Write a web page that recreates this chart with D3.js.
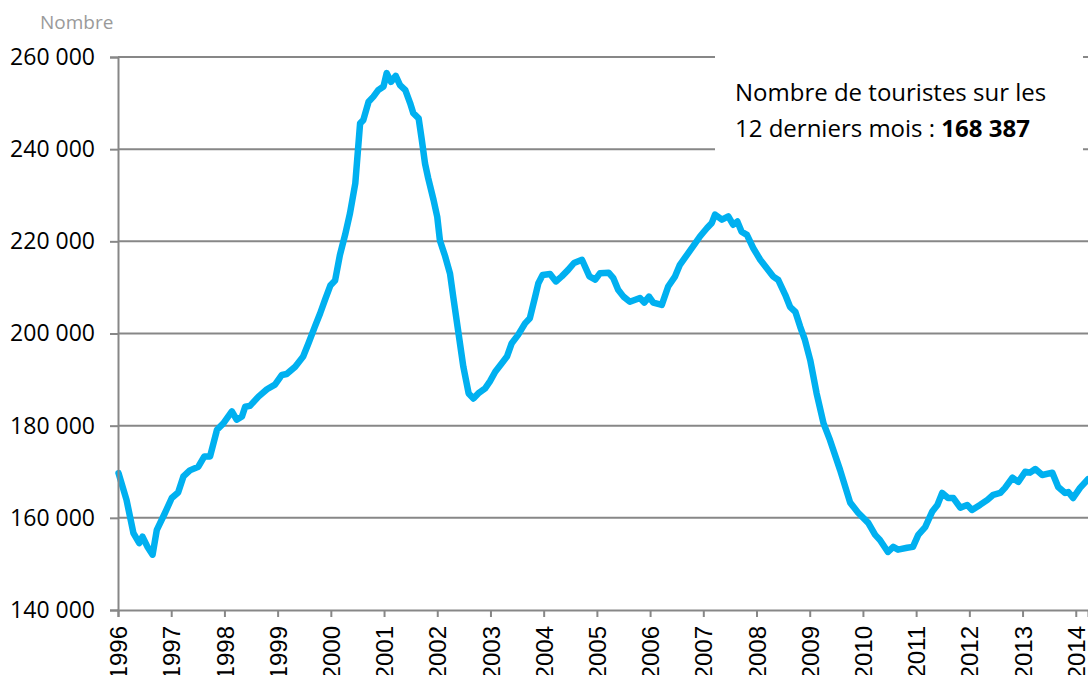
<!DOCTYPE html>
<html>
<head>
<meta charset="utf-8">
<script src="https://cdn.jsdelivr.net/npm/d3@7"></script>
<style>
  body { margin: 0; background: #fff; overflow: hidden; }
  text { font-family: "Open Sans", sans-serif; }
</style>
</head>
<body>
<div id="wrapper"></div>
<script>
// 1. Data (12-month rolling number of tourists)

const years = [
  1996.01, 1996.16, 1996.29, 1996.40, 1996.46, 1996.55, 1996.65, 1996.73, 1996.88,
  1997.01, 1997.13, 1997.23, 1997.35, 1997.51, 1997.62, 1997.73, 1997.86, 1997.98,
  1998.14, 1998.23, 1998.33, 1998.39, 1998.48, 1998.64, 1998.80, 1998.95,
  1999.08, 1999.17, 1999.33, 1999.48, 1999.58, 1999.70, 1999.80, 1999.89, 1999.99,
  2000.08, 2000.17, 2000.27, 2000.36, 2000.46, 2000.55, 2000.61, 2000.71, 2000.80, 2000.89, 2000.99,
  2001.05, 2001.13, 2001.22, 2001.30, 2001.40, 2001.49, 2001.55, 2001.65, 2001.71, 2001.77, 2001.83, 2001.93,
  2002.00, 2002.05, 2002.15, 2002.24, 2002.30, 2002.40, 2002.49, 2002.59, 2002.68, 2002.77, 2002.90, 2002.99,
  2003.09, 2003.21, 2003.31, 2003.40, 2003.52, 2003.65, 2003.74, 2003.84, 2003.90, 2003.98,
  2004.12, 2004.23, 2004.34, 2004.46, 2004.57, 2004.72, 2004.86, 2004.97,
  2005.06, 2005.22, 2005.31, 2005.40, 2005.50, 2005.62, 2005.81, 2005.89, 2005.98,
  2006.06, 2006.22, 2006.34, 2006.47, 2006.56, 2006.72, 2006.85, 2006.94,
  2007.07, 2007.16, 2007.22, 2007.35, 2007.47, 2007.56, 2007.64, 2007.72, 2007.82, 2007.94,
  2008.07, 2008.19, 2008.31, 2008.41, 2008.54, 2008.63, 2008.73, 2008.82, 2008.91,
  2009.01, 2009.13, 2009.26, 2009.38, 2009.57, 2009.76, 2009.91,
  2010.10, 2010.23, 2010.32, 2010.47, 2010.57, 2010.66, 2010.83, 2010.94,
  2011.04, 2011.17, 2011.30, 2011.40, 2011.49, 2011.60, 2011.70, 2011.83, 2011.96,
  2012.05, 2012.20, 2012.34, 2012.45, 2012.58, 2012.67, 2012.81, 2012.92,
  2013.05, 2013.14, 2013.24, 2013.37, 2013.56, 2013.67, 2013.80, 2013.86, 2013.95,
  2014.08, 2014.23
];

const tourists = [
  169700, 163900, 156700, 154500, 155900, 153800, 152000, 157400, 161000,
  164300, 165500, 169000, 170300, 171100, 173300, 173300, 179100, 180500,
  183100, 181300, 182000, 184100, 184300, 186300, 187900, 188900,
  191000, 191200, 192800, 195000, 197900, 201500, 204400, 207300, 210400,
  211500, 217000, 221500, 226100, 232600, 245600, 246300, 250300, 251400, 252800, 253600,
  256500, 254600, 255900, 253900, 252800, 250000, 247800, 246700, 242000, 236900, 233700, 229000,
  225300, 220200, 216700, 213000, 208000, 200000, 192800, 187000, 185900, 187000, 188100, 189600,
  191700, 193500, 195000, 197900, 199700, 202200, 203300, 208000, 210900, 212700,
  212900, 211300, 212400, 213800, 215300, 216000, 212400, 211700,
  213100, 213200, 212000, 209500, 208000, 206900, 207700, 206700, 208000,
  206700, 206200, 210200, 212400, 214900, 217500, 219600, 221100,
  222900, 224000, 225800, 224700, 225400, 223600, 224300, 222100, 221400, 218500,
  216000, 214200, 212400, 211600, 208400, 205800, 204700, 201500, 198600,
  194200, 187000, 180500, 176900, 170400, 163300, 161100,
  158900, 156300, 155200, 152600, 153700, 153100, 153500, 153700,
  156300, 158000, 161300, 162800, 165400, 164300, 164300, 162200, 162800,
  161700, 162800, 163900, 165000, 165400, 166500, 168700, 167800,
  170000, 169800, 170600, 169300, 169800, 166700, 165400, 165600, 164300,
  166500, 168387
];

const yTicks = [140000, 160000, 180000, 200000, 220000, 240000, 260000];
const xTicks = d3.range(1996, 2015);

const yLabel = "Nombre";
const noteLine1 = "Nombre de touristes sur les";
const noteLine2 = "12 derniers mois : ";
const lastValue = 168387;

// 2. Dimensions

let dimensions = {
  width: 1088,
  height: 675,
  margin: { top: 57, right: 0, bottom: 65, left: 118 },
};
dimensions.boundedWidth =
  dimensions.width - dimensions.margin.left - dimensions.margin.right;
dimensions.boundedHeight =
  dimensions.height - dimensions.margin.top - dimensions.margin.bottom;

const frLocale = d3.formatLocale({
  decimal: ",",
  thousands: " ",
  grouping: [3],
  currency: ["", " €"],
});
const fmt = frLocale.format(",d");

// 3. Canvas

const wrapper = d3
  .select("#wrapper")
  .append("svg")
  .attr("width", dimensions.width)
  .attr("height", dimensions.height);

const bounds = wrapper
  .append("g")
  .attr(
    "transform",
    `translate(${dimensions.margin.left}, ${dimensions.margin.top})`
  );

// 4. Scales

const xScale = d3
  .scaleLinear()
  .domain([1996, d3.max(years)])
  .range([0, dimensions.boundedWidth]);

const yScale = d3
  .scaleLinear()
  .domain([140000, 260000])
  .range([dimensions.boundedHeight, 0]);

const gridColor = "#878787";

// gridlines
bounds
  .append("g")
  .selectAll("line")
  .data(yTicks.slice(1))
  .join("line")
  .attr("x1", 0)
  .attr("x2", dimensions.boundedWidth)
  .attr("y1", (d) => yScale(d))
  .attr("y2", (d) => yScale(d))
  .attr("stroke", gridColor)
  .attr("stroke-width", 2);

// 5. Draw data

const points = years.map((y, i) => [y, tourists[i]]);

const lineGenerator = d3
  .line()
  .x((d) => xScale(d[0]))
  .y((d) => yScale(d[1]));

bounds
  .append("path")
  .datum(points)
  .attr("d", lineGenerator)
  .attr("fill", "none")
  .attr("stroke", "#00b0f0")
  .attr("stroke-width", 6.5)
  .attr("stroke-linejoin", "round")
  .attr("stroke-linecap", "round");

// 6. Peripherals

const yAxisGenerator = d3
  .axisLeft(yScale)
  .tickValues(yTicks)
  .tickSize(8)
  .tickPadding(15)
  .tickFormat(fmt);

const yAxis = bounds.append("g").call(yAxisGenerator);
yAxis.select(".domain").attr("stroke", gridColor).attr("stroke-width", 2);
yAxis.selectAll(".tick line").attr("stroke", gridColor).attr("stroke-width", 2);
yAxis
  .selectAll(".tick text")
  .attr("fill", "#000")
  .style("font-size", "23px");

const xAxisGenerator = d3
  .axisBottom(xScale)
  .tickValues(xTicks)
  .tickSize(7)
  .tickFormat(d3.format("d"));

const xAxis = bounds
  .append("g")
  .attr("transform", `translate(0, ${dimensions.boundedHeight})`)
  .call(xAxisGenerator);
xAxis.select(".domain").attr("stroke", gridColor).attr("stroke-width", 2);
xAxis.selectAll(".tick line").attr("stroke", gridColor).attr("stroke-width", 2);
xAxis
  .selectAll(".tick text")
  .attr("fill", "#000")
  .attr("transform", "rotate(-90)")
  .attr("x", -16)
  .attr("y", 0)
  .attr("dy", "0.36em")
  .attr("text-anchor", "end")
  .style("font-family", "'Liberation Sans', Arial, sans-serif")
  .style("font-size", "24px");

// axis unit label
wrapper
  .append("text")
  .attr("x", 40)
  .attr("y", 29)
  .attr("fill", "#9a9a9a")
  .style("font-size", "19px")
  .text(yLabel);

// annotation box (hides the gridlines behind it)
wrapper
  .append("rect")
  .attr("x", 715)
  .attr("y", 50)
  .attr("width", 368)
  .attr("height", 105)
  .attr("fill", "#fff");

const note = wrapper
  .append("text")
  .attr("fill", "#000")
  .style("font-size", "24px");

note.append("tspan").attr("x", 735).attr("y", 101).text(noteLine1);
note.append("tspan").attr("x", 735).attr("y", 137).text(noteLine2);
note
  .append("tspan")
  .style("font-weight", "bold")
  .text(fmt(lastValue));
</script>
</body>
</html>
